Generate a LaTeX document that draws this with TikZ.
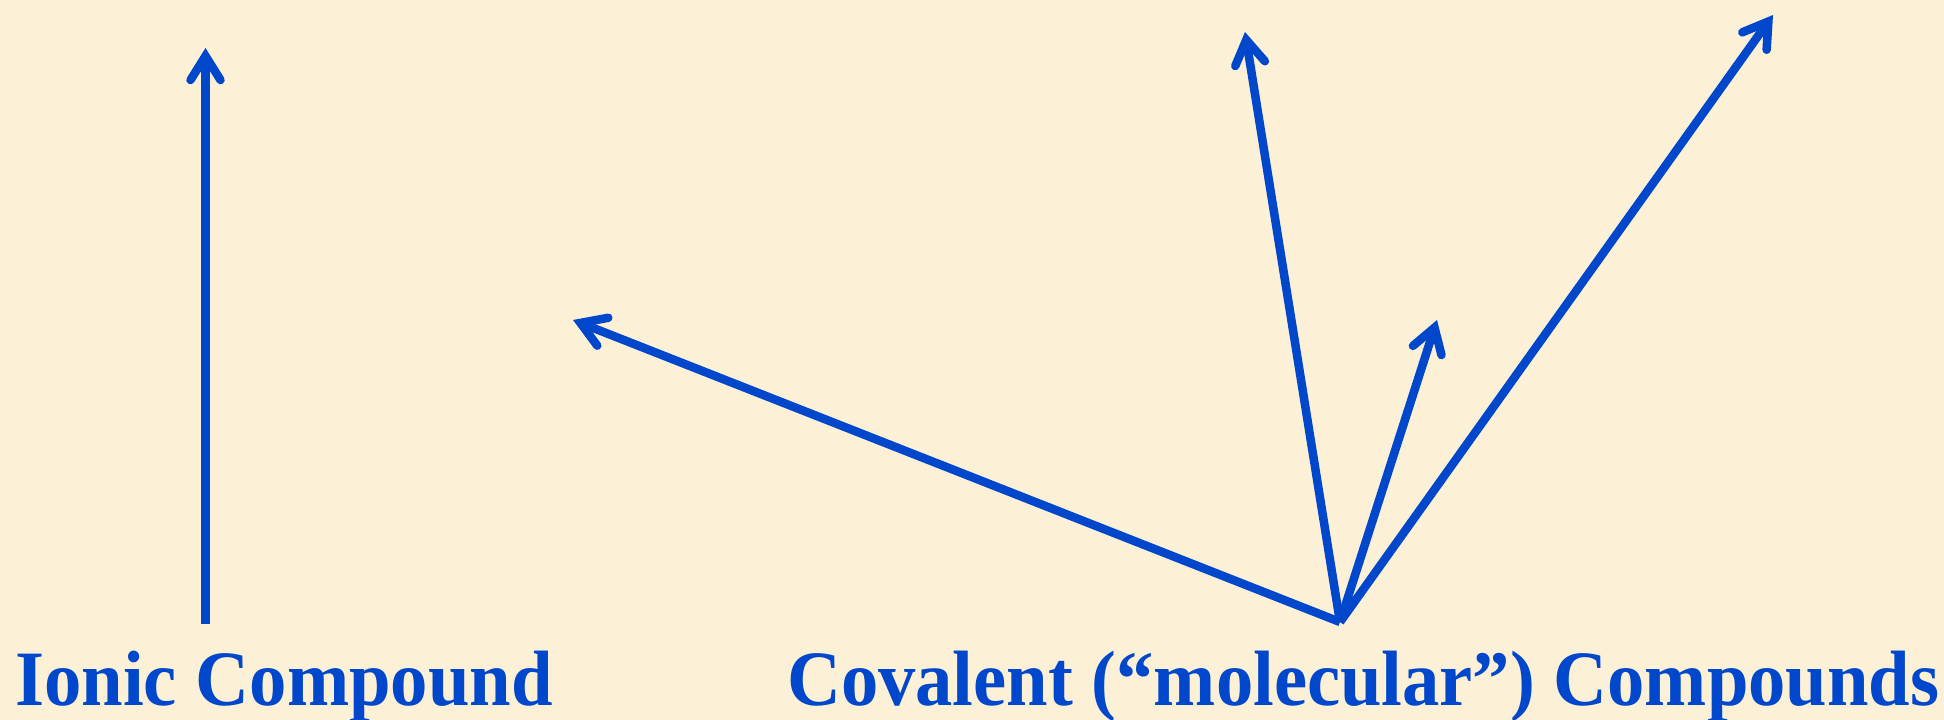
\documentclass[tikz,border=0pt]{standalone}
\usepackage{fontspec}
\usepackage{graphicx}
\setmainfont{Liberation Serif}
\usetikzlibrary{arrows.meta}
\definecolor{bgcream}{RGB}{252,240,214}
\definecolor{vecblue}{RGB}{0,71,204}
\tikzset{
  vec/.style={draw=vecblue, line width=8.5pt, line cap=butt,
    -{Straight Barb[length=24pt,width=30pt,line cap=round,line join=miter]}},
  lbl/.style={text=vecblue, font=\bfseries\fontsize{74}{80}\selectfont, inner sep=0pt, anchor=base west}
}
\begin{document}
\begin{tikzpicture}[x=1pt,y=-1pt]
  \fill[bgcream] (0,0) rectangle (1944,720);
  \useasboundingbox (0,0) rectangle (1944,720);
  % ionic
  \coordinate (ionbase) at (205.5,624);
  \coordinate (iontip) at (205.5,48);
  \draw[vec] (ionbase) -- (iontip);
  % covalent
  \coordinate (cov) at (1340,622);
  \coordinate (t1) at (573,320);
  \coordinate (t2) at (1245,32);
  \coordinate (t3) at (1437,320);
  \coordinate (t4) at (1773,15);
  \draw[vec] (cov) -- (t1);
  \draw[vec] (cov) -- (t2);
  \draw[vec] (cov) -- (t3);
  \draw[vec] (cov) -- (t4);
  \node[lbl] (ionic) at (15,705) {\scalebox{1.01}[1.06]{Ionic Compound}};
  \node[lbl] (covalent) at (787,705) {\scalebox{1.008}[1.06]{Covalent (“molecular”) Compounds}};
\end{tikzpicture}
\end{document}
